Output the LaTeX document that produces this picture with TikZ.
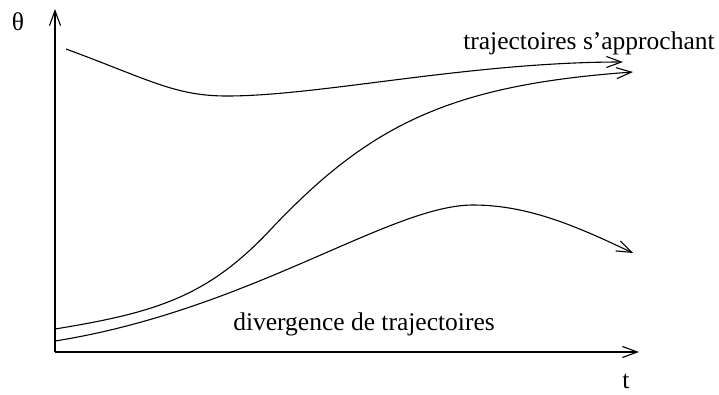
\documentclass[tikz,border=0pt]{standalone}
\usepackage{fontspec}
\setmainfont{Liberation Serif}
\usetikzlibrary{arrows.meta}
\begin{document}
\begin{tikzpicture}[x=1pt,y=-1pt,
  curve/.style={line width=1.1pt,-{Straight Barb[length=15pt,width=11pt,line width=1.1pt]}},
  lbl/.style={inner sep=0pt,font=\fontsize{25.5}{30}\selectfont}]
\useasboundingbox (0,0) rectangle (719,394);
\coordinate (O) at (55,352);
\coordinate (Ytop) at (55,9);
\coordinate (Xend) at (639,352);
\draw[curve] (O) -- (Ytop);
\draw[curve] (O) -- (Xend);
\node[lbl] (theta) at (18,22) {θ};
\node[lbl] (tlab) at (626,381) {t};
\node[lbl] (top) at (589,43) {trajectoires s’approchant};
\node[lbl] (bot) at (364,324) {divergence de trajectoires};
% top curve
\coordinate (a0) at (66,49);
\coordinate (a1) at (227,96);
\coordinate (a2) at (623,62);
\draw[curve] (a0) .. controls (150,80) and (175,96) .. (a1) .. controls (320,96) and (470,62) .. (a2);
% middle curve
\coordinate (b0) at (55,329);
\coordinate (b1) at (273,227);
\coordinate (b2) at (633,72);
\draw[curve] (b0) .. controls (160,312) and (210,295) .. (b1) .. controls (370,125) and (450,85) .. (b2);
% lower curve
\coordinate (c0) at (55,341);
\coordinate (c1) at (473,205);
\coordinate (c2) at (633,253);
\draw[curve] (c0) .. controls (250,310) and (390,205) .. (c1) .. controls (530,205) and (580,228) .. (c2);
\end{tikzpicture}
\end{document}
